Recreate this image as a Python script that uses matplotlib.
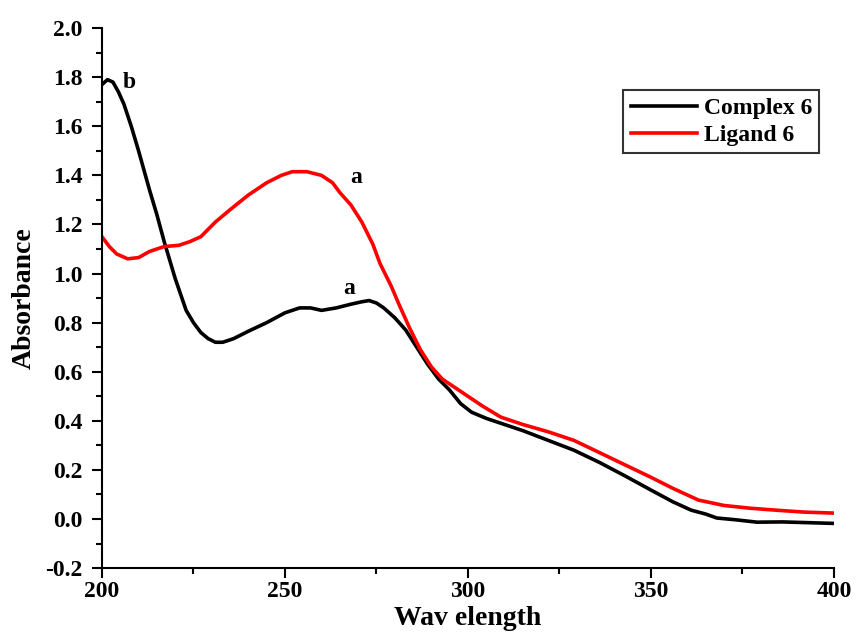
import numpy as np
import matplotlib.pyplot as plt
from matplotlib.ticker import MultipleLocator

plt.rcParams['font.family'] = ['Liberation Serif', 'DejaVu Serif']
plt.rcParams['font.weight'] = 'bold'

# wavelength / absorbance
wl_complex = [200, 201.5, 203, 204.5, 206, 208, 210, 213, 215, 217, 220, 223, 225,
              227, 229, 231, 233, 236, 240, 245, 250, 254, 257, 260, 264, 268, 271,
              273, 275, 277, 280, 283, 286, 289, 292, 295, 298, 301, 305, 309, 315,
              322, 329, 336, 343, 350, 356, 361, 365, 368, 373, 379, 386, 393, 400]
abs_complex = [1.77, 1.79, 1.78, 1.74, 1.69, 1.60, 1.50, 1.34, 1.24, 1.13, 0.98, 0.85,
               0.80, 0.76, 0.735, 0.72, 0.72, 0.735, 0.765, 0.80, 0.84, 0.86, 0.86,
               0.85, 0.86, 0.875, 0.885, 0.89, 0.88, 0.86, 0.82, 0.77, 0.70, 0.63,
               0.57, 0.525, 0.47, 0.435, 0.41, 0.39, 0.36, 0.32, 0.28, 0.23, 0.175,
               0.118, 0.07, 0.036, 0.02, 0.004, -0.003, -0.013, -0.012, -0.015, -0.018]

wl_ligand = [200, 202, 204, 207, 210, 213, 217, 221, 224, 227, 231, 235, 240, 245,
             249, 252, 256, 260, 263, 265, 268, 271, 274, 276, 279, 281, 284, 287,
             290, 293, 296, 300, 304, 309, 315, 322, 329, 336, 343, 350, 356, 363,
             370, 377, 385, 392, 400]
abs_ligand = [1.15, 1.11, 1.08, 1.06, 1.065, 1.09, 1.11, 1.115, 1.13, 1.15, 1.21,
              1.26, 1.32, 1.37, 1.40, 1.415, 1.415, 1.40, 1.37, 1.33, 1.28, 1.21,
              1.12, 1.04, 0.95, 0.88, 0.78, 0.69, 0.62, 0.57, 0.54, 0.50, 0.46, 0.415,
              0.385, 0.355, 0.32, 0.27, 0.22, 0.17, 0.125, 0.077, 0.055, 0.044, 0.035,
              0.028, 0.024]

peak_labels = [("b", 207.5, 1.78), ("a", 269.5, 1.39), ("a", 267.5, 0.94)]

fig = plt.figure(figsize=(8.57, 6.39), dpi=100)
ax = fig.add_axes([0.119, 0.111, 0.854, 0.845])

ax.plot(wl_complex, abs_complex, color='black', lw=2.6, label='Complex 6')
ax.plot(wl_ligand, abs_ligand, color='red', lw=2.6, label='Ligand 6')

for txt, x, y in peak_labels:
    ax.text(x, y, txt, fontsize=17, fontweight='bold', ha='center', va='center')

ax.set_xlim(200, 400)
ax.set_ylim(-0.2, 2.0)
ax.xaxis.set_major_locator(MultipleLocator(50))
ax.xaxis.set_minor_locator(MultipleLocator(25))
ax.yaxis.set_major_locator(MultipleLocator(0.2))
ax.yaxis.set_minor_locator(MultipleLocator(0.1))
ax.yaxis.set_major_formatter(plt.FormatStrFormatter('%.1f'))

ax.spines['top'].set_visible(False)
ax.spines['right'].set_visible(False)
ax.spines['left'].set_linewidth(1.5)
ax.spines['bottom'].set_linewidth(1.5)
ax.tick_params(which='major', direction='out', length=7, width=1.5, labelsize=17)
ax.tick_params(which='minor', direction='out', length=4.5, width=1.5)
ax.tick_params(axis='y', which='major', pad=7)
ax.tick_params(axis='x', which='major', pad=2)

ax.set_xlabel('Wav elength', fontsize=20, fontweight='bold', labelpad=3)
ax.set_ylabel('Absorbance', fontsize=20, fontweight='bold', labelpad=6)

leg = ax.legend(loc='upper right', bbox_to_anchor=(0.98, 0.885), fontsize=17,
                frameon=True, fancybox=False, edgecolor='black', handlelength=2.8,
                borderpad=0.3, labelspacing=0.25, handletextpad=0.3,
                borderaxespad=0)
leg.get_frame().set_linewidth(1.5)

fig.savefig('out.png', dpi=100)
